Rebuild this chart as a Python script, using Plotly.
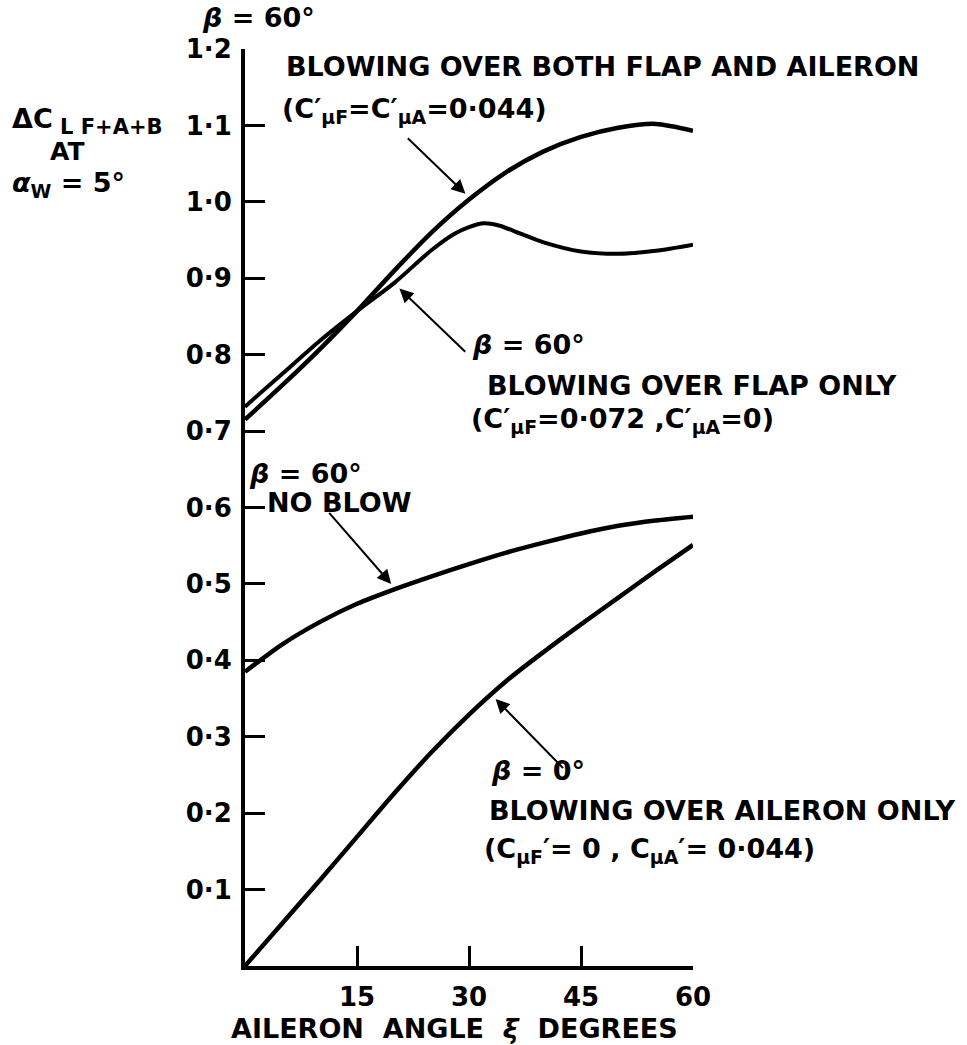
import plotly.graph_objects as go

# ---- data ----
x_deg = [0, 5, 10, 15, 20, 25, 30, 35, 40, 45, 50, 55, 60]
both_flap_aileron = [0.715, 0.760, 0.807, 0.857, 0.910, 0.960, 1.003, 1.039, 1.066, 1.085, 1.097, 1.102, 1.093]

x_flap = [0, 5, 10, 15, 20, 25, 28, 30, 32, 34, 37, 40, 45, 50, 55, 60]
flap_only = [0.732, 0.775, 0.818, 0.857, 0.894, 0.937, 0.958, 0.967, 0.972, 0.969, 0.958, 0.947, 0.935, 0.932, 0.936, 0.944]

no_blow = [0.385, 0.421, 0.450, 0.474, 0.493, 0.510, 0.526, 0.541, 0.554, 0.566, 0.576, 0.583, 0.588]
aileron_only = [0.0, 0.056, 0.112, 0.169, 0.226, 0.280, 0.329, 0.373, 0.411, 0.447, 0.482, 0.517, 0.551]

y_tick_vals = [0.1, 0.2, 0.3, 0.4, 0.5, 0.6, 0.7, 0.8, 0.9, 1.0, 1.1, 1.2]
y_tick_text = ["0·1", "0·2", "0·3", "0·4", "0·5", "0·6", "0·7", "0·8", "0·9", "1·0", "1·1", "1·2"]
x_tick_vals = [15, 30, 45, 60]
x_tick_text = ["15", "30", "45", "60"]

# ---- layout geometry ----
W, H = 967, 1045
L, R, T, B = 245, 693, 49, 966
FONT = "DejaVu Sans"

def px(xp, yp):
    return (xp - L) / (R - L), (B - yp) / (B - T)

fig = go.Figure()
line = dict(color="black", width=4.5, shape="spline", smoothing=0.8)
fig.add_trace(go.Scatter(x=x_deg, y=both_flap_aileron, mode="lines", line=line))
fig.add_trace(go.Scatter(x=x_flap, y=flap_only, mode="lines", line=dict(line, width=4)))
fig.add_trace(go.Scatter(x=x_deg, y=no_blow, mode="lines", line=line))
fig.add_trace(go.Scatter(x=x_deg, y=aileron_only, mode="lines", line=line))

# arrows: (tip_x, tip_y, tail_x, tail_y) in data units
arrows = [
    (30.1, 1.005, 21.6, 1.085),
    (20.1, 0.892, 29.7, 0.802),
    (20.1, 0.494, 11.1, 0.595),
    (33.0, 0.355, 42.8, 0.257),
]
for tx, ty, ax_, ay_ in arrows:
    fig.add_annotation(x=tx, y=ty, ax=ax_, ay=ay_, xref="x", yref="y", axref="x", ayref="y",
                       text="", showarrow=True, arrowhead=2, arrowsize=1.4, arrowwidth=2,
                       arrowcolor="black", standoff=6)

def font(size):
    return dict(family=FONT, size=size, color="black", weight="bold")

texts = [
    (200, 18, "<i>β</i> = 60°", 27),
    (284, 67, "BLOWING OVER BOTH FLAP AND AILERON", 27),
    (280, 110, "(C′<sub>μF</sub>=C′<sub>μA</sub>=0·044)", 27),
    (470, 345, "<i>β</i> = 60°", 27),
    (485, 385, "BLOWING OVER FLAP ONLY", 27),
    (469, 420, "(C′<sub>μF</sub>=0·072 ,C′<sub>μA</sub>=0)", 27),
    (247, 473, "<i>β</i> = 60°", 27),
    (265, 503, "NO BLOW", 27),
    (489, 770, "<i>β</i> = 0°", 27),
    (487, 810, "BLOWING OVER AILERON ONLY", 27),
    (482, 850, "(C<sub>μF</sub>′= 0 , C<sub>μA</sub>′= 0·044)", 27),
    (10, 118, "ΔC", 27),
    (58, 127, "L F+A+B", 21),
    (48, 151, "AT", 25),
    (10, 184, "<i>α</i><sub>W</sub> = 5°", 27),
    (229, 1028, "AILERON  ANGLE  <i>ξ</i>  DEGREES", 27),
]
for xp, yp, t, s in texts:
    xx, yy = px(xp, yp)
    fig.add_annotation(x=xx, y=yy, xref="paper", yref="paper", text=t, showarrow=False,
                       xanchor="left", yanchor="middle", font=font(s))

axis_common = dict(showline=True, linewidth=4, linecolor="black", ticks="inside",
                   ticklen=20, tickwidth=3, tickcolor="black", showgrid=False, zeroline=False,
                   tickfont=font(26))
fig.update_xaxes(range=[0, 60], tickmode="array", tickvals=x_tick_vals, ticktext=x_tick_text,
                 ticklabelstandoff=5, **axis_common)
fig.update_yaxes(range=[0, 1.2], tickmode="array", tickvals=y_tick_vals, ticktext=y_tick_text,
                 ticklabelstandoff=4, **axis_common)

fig.update_layout(width=W, height=H, showlegend=False, plot_bgcolor="white", paper_bgcolor="white",
                  margin=dict(l=L, r=W - R, t=T, b=H - B, autoexpand=False))
fig.write_html("out.html", config={"displayModeBar": False},
               post_script="document.body.style.margin='0';")
